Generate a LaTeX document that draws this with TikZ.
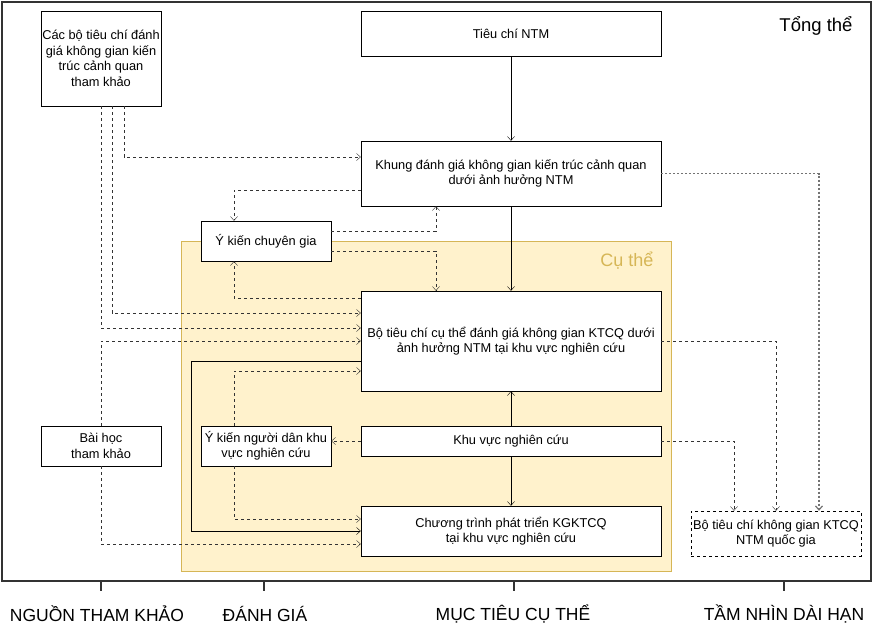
\documentclass[tikz,border=0pt]{standalone}
\usepackage{fontspec}
\setmainfont{Liberation Sans}
\usetikzlibrary{arrows.meta}

\definecolor{cuthefill}{HTML}{FFF2CC}
\definecolor{cutheline}{HTML}{D6B656}
\definecolor{framegray}{HTML}{333333}

\tikzset{
	box/.style = {draw, fill = white, align = center, inner sep = 0pt, font = \fontsize{12.8}{15.5}\selectfont},
	qgbox/.style = {box, dash pattern = on 3pt off 3pt},
	sline/.style = {->, draw = black},
	dline/.style = {->, draw = framegray, dash pattern = on 3pt off 3pt},
	gline/.style = {->, draw = black!55, dash pattern = on 2pt off 2pt, line width = 1.2pt},
	axislabel/.style = {font = \fontsize{17.5}{20}\selectfont}
}

\begin{document}
\begin{tikzpicture}[x = 1pt, y = -1pt, > = {Straight Barb[length = 4pt, width = 7pt]}]
\useasboundingbox (0, 0) rectangle (873, 632);

\draw [framegray, line width = 2pt] (1.5, 1.5) rectangle (871, 581);
\node [font = \fontsize{18.5}{20}\selectfont] (tongthe) at (816, 26) {Tổng thể};

\draw [cutheline, fill = cuthefill] (181, 241) rectangle (671, 571);
\node [font = \fontsize{18}{20}\selectfont, text = cutheline] (cuthe) at (627, 261) {Cụ thể};

% nodes
\node [box, minimum width = 120pt, minimum height = 95pt] (cacbo) at (101, 58.5) {Các bộ tiêu chí đánh\\giá không gian kiến\\trúc cảnh quan\\tham khảo};
\node [box, minimum width = 300pt, minimum height = 45pt] (tieuchi) at (511, 33.5) {Tiêu chí NTM};
\node [box, minimum width = 300pt, minimum height = 65pt] (khung) at (511, 173.5) {Khung đánh giá không gian kiến trúc cảnh quan\\dưới ảnh hưởng NTM};
\node [box, minimum width = 130pt, minimum height = 40pt] (ykcg) at (266, 241) {Ý kiến chuyên gia};
\node [box, minimum width = 300pt, minimum height = 100pt] (botc) at (511, 341) {Bộ tiêu chí cụ thể đánh giá không gian KTCQ dưới\\ảnh hưởng NTM tại khu vực nghiên cứu};
\node [box, minimum width = 300pt, minimum height = 30pt] (kvnc) at (511, 441) {Khu vực nghiên cứu};
\node [box, minimum width = 130pt, minimum height = 40pt] (yknd) at (266, 446) {Ý kiến người dân khu\\vực nghiên cứu};
\node [box, minimum width = 120pt, minimum height = 40pt] (baihoc) at (101, 446) {Bài học\\tham khảo};
\node [box, minimum width = 300pt, minimum height = 50pt] (ctpt) at (511, 531) {Chương trình phát triển KGKTCQ\\tại khu vực nghiên cứu};
\node [qgbox, minimum width = 170pt, minimum height = 45pt] (qg) at (776, 533.5) {Bộ tiêu chí không gian KTCQ\\NTM quốc gia};

% solid connectors
\draw [sline] (tieuchi) -- (khung);
\draw [sline] (khung) -- (botc);
\draw [sline] (kvnc) -- (botc);
\draw [sline] (kvnc) -- (ctpt);
\draw [sline] ([yshift = -20pt] botc.west) -- ++(-170, 0) |- (ctpt.west);

% dashed connectors
\draw [dline] ([xshift = 23pt] cacbo.south) |- ([yshift = 16.5pt] khung.west);
\draw [dline] ([xshift = 11pt] cacbo.south) |- ([yshift = 28pt] botc.west);
\draw [dline] (cacbo.south) |- ([yshift = 13pt] botc.west);
\draw [dline] (baihoc.north) |- (botc.west);
\draw [dline] (baihoc.south) |- ([yshift = -13pt] ctpt.west);
\draw [dline] ([yshift = -16.5pt] khung.west) -| ([xshift = -32pt] ykcg.north);
\draw [dline] ([yshift = 10pt] ykcg.east) -| ([xshift = -75pt] khung.south);
\draw [dline] ([yshift = -10pt] ykcg.east) -| ([xshift = -75pt] botc.north);
\draw [dline] ([yshift = 43pt] botc.west) -| ([xshift = -32pt] ykcg.south);
\draw [dline] ([xshift = -32pt] yknd.north) |- ([yshift = -30pt] botc.west);
\draw [dline] ([xshift = -32pt] yknd.south) |- ([yshift = 12pt] ctpt.west);
\draw [dline] (kvnc.west) -- (kvnc.west -| yknd.east);
\draw [dline] (kvnc.east) -| ([xshift = -42pt] qg.north);
\draw [dline] (botc.east) -| (qg.north);
\draw [gline] (khung.east) -| ([xshift = 43pt] qg.north);

% axis
\node [axislabel] (nguon) at (97, 614) {NGUỒN THAM KHẢO};
\node [axislabel] (danhgia) at (265, 614) {ĐÁNH GIÁ};
\node [axislabel] (muctieu) at (513, 614) {MỤC TIÊU CỤ THỂ};
\node [axislabel] (tamnhin) at (784, 614) {TẦM NHÌN DÀI HẠN};
\foreach \x in {101, 264, 514, 784}
	\draw [framegray, line width = 1.5pt] (\x, 582) -- (\x, 591);
\end{tikzpicture}
\end{document}
